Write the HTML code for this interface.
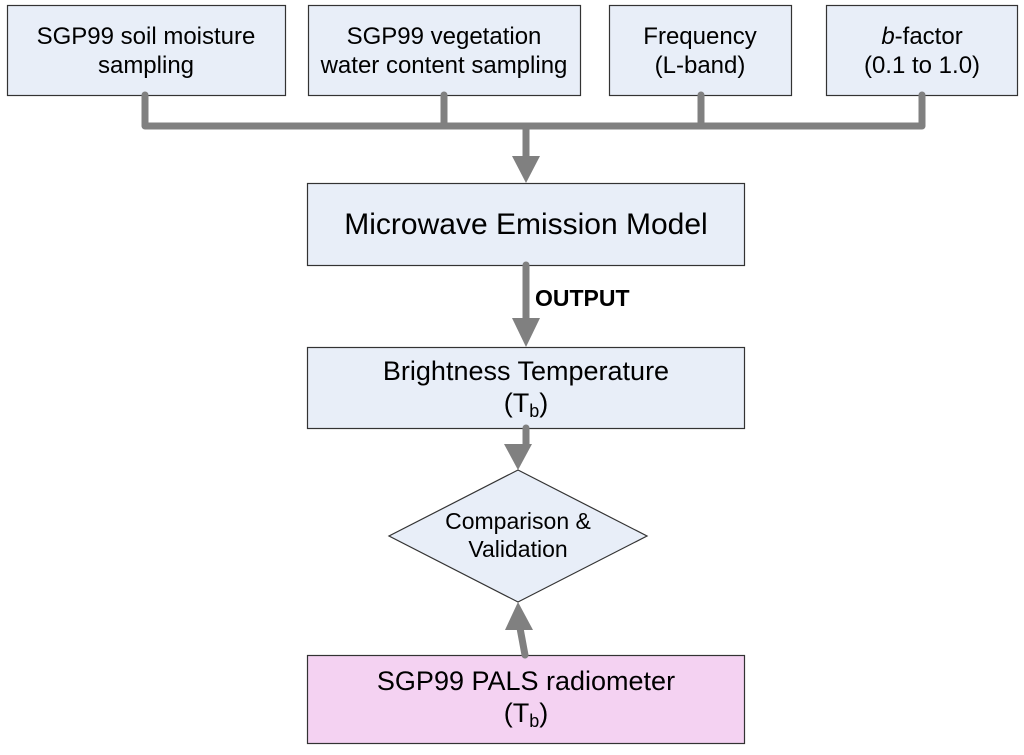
<!DOCTYPE html>
<html><head><meta charset="utf-8"><style>
body{margin:0;background:#fff}
</style></head><body>
<svg width="1024" height="750" xmlns="http://www.w3.org/2000/svg" font-family="Liberation Sans, Arial, sans-serif">
<g fill="#e8eef8" stroke="#333" stroke-width="1.2">
<rect x="7.5" y="5.5" width="278" height="90"/>
<rect x="308.5" y="5.5" width="272" height="90"/>
<rect x="609.5" y="5.5" width="182" height="90"/>
<rect x="826.5" y="5.5" width="191" height="90"/>
<rect x="307.5" y="183.5" width="437" height="82"/>
<rect x="307.5" y="347.5" width="437" height="81"/>
<polygon points="518,470 647,536 518,602 389,536"/>
<rect x="307.5" y="655.5" width="437" height="88" fill="#f4d2f2"/>
</g>
<g stroke="#808080" stroke-width="7" fill="none" stroke-linecap="round">
<path d="M145,95 V126 M444,95 V126 M701,95 V126 M922,95 V126 M145,126 H922"/>
<path d="M526,126 V158"/>
<path d="M526,265 V320"/>
<path d="M526,428 V447"/>
<path d="M525,655 L520,628"/>
</g>
<g fill="#808080">
<polygon points="512,156 540,156 526,183"/>
<polygon points="512,318 540,318 526,347"/>
<polygon points="504,444 532,444 518,470"/>
<polygon points="505,630 533,630 518,602"/>
</g>
<g font-size="24" text-anchor="middle" fill="#000">
<text x="146" y="44">SGP99 soil moisture</text>
<text x="146" y="73">sampling</text>
<text x="444" y="44">SGP99 vegetation</text>
<text x="444" y="73">water content sampling</text>
<text x="700" y="44">Frequency</text>
<text x="700" y="73">(L-band)</text>
<text x="922" y="44"><tspan font-style="italic">b</tspan>-factor</text>
<text x="922" y="73">(0.1 to 1.0)</text>
<text x="526" y="234" font-size="30">Microwave Emission Model</text>
<text x="526" y="380" font-size="27">Brightness Temperature</text>
<text x="526" y="412" font-size="27">(T<tspan font-size="18" dy="5">b</tspan><tspan dy="-5">)</tspan></text>
<text x="518" y="529" font-size="23">Comparison &amp;</text>
<text x="518" y="557" font-size="23">Validation</text>
<text x="526" y="690" font-size="27">SGP99 PALS radiometer</text>
<text x="526" y="722" font-size="27">(T<tspan font-size="18" dy="5">b</tspan><tspan dy="-5">)</tspan></text>
</g>
<text x="535" y="306" font-size="23" font-weight="bold">OUTPUT</text>
</svg>
</body></html>
